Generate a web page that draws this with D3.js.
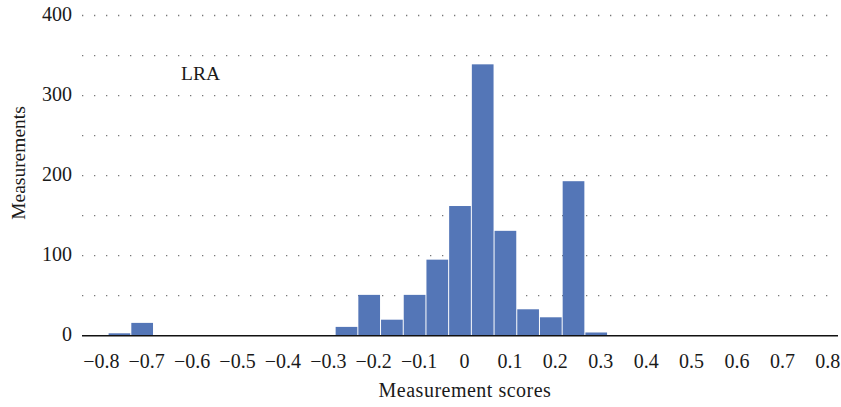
<!DOCTYPE html>
<html>
<head>
<meta charset="utf-8">
<script src="https://cdn.jsdelivr.net/npm/d3@7"></script>
<style>
  html, body { margin: 0; padding: 0; background: #fff; }
  svg { display: block; }
  text { font-family: "Liberation Serif", "DejaVu Serif", serif; fill: #1a1a1a; }
</style>
</head>
<body>
<svg id="chart" width="841" height="407"></svg>
<script>
// Histogram bins (left edges), bin width 0.05
const binStarts = [-0.785, -0.735, -0.685, -0.635, -0.585, -0.535, -0.485, -0.435, -0.385, -0.335,
                   -0.285, -0.235, -0.185, -0.135, -0.085, -0.035, 0.015, 0.065, 0.115, 0.165, 0.215, 0.265];
const counts    = [3, 16, 0, 0, 0, 0, 0, 0, 0, 0,
                   11, 51, 20, 51, 95, 162, 339, 131, 33, 23, 193, 4];
const binWidth = 0.05;
const xTicks = [-0.8, -0.7, -0.6, -0.5, -0.4, -0.3, -0.2, -0.1, 0, 0.1, 0.2, 0.3, 0.4, 0.5, 0.6, 0.7, 0.8];
const yGrid = [50, 100, 150, 200, 250, 300, 350, 400];
const yLabels = [0, 100, 200, 300, 400];
const annotation = "LRA";
const xTitle = "Measurement scores";
const yTitle = "Measurements";

const svg = d3.select("#chart");
const mLeft = 82, mRight = 838, mTop = 15.5, mBottom = 335.7;

const x = d3.scaleLinear().domain([-0.8425, 0.8225]).range([mLeft, mRight]);
const y = d3.scaleLinear().domain([0, 400]).range([mBottom, mTop]);

// dotted gridlines
svg.append("g").selectAll("line").data(yGrid).join("line")
  .attr("x1", mLeft).attr("x2", mRight)
  .attr("y1", d => y(d)).attr("y2", d => y(d))
  .attr("stroke", "#777").attr("stroke-width", 1.3)
  .attr("stroke-dasharray", "1.3,10.7");

// bars
const bars = binStarts.map((s, i) => ({ s, c: counts[i] })).filter(d => d.c > 0);
svg.append("g").selectAll("rect").data(bars).join("rect")
  .attr("x", d => x(d.s) + 0.5)
  .attr("width", d => x(d.s + binWidth) - x(d.s) - 1)
  .attr("y", d => y(d.c))
  .attr("height", d => y(0) - y(d.c))
  .attr("fill", "#5476b7");

// x axis line
svg.append("line")
  .attr("x1", mLeft).attr("x2", mRight)
  .attr("y1", y(0)).attr("y2", y(0))
  .attr("stroke", "#111").attr("stroke-width", 1.5);

// x tick labels
const fmt = d => (d < 0 ? "\u2212" : "") + (d === 0 ? "0" : Math.abs(d).toFixed(1));
svg.append("g").selectAll("text").data(xTicks).join("text")
  .attr("x", d => x(d)).attr("y", 368)
  .attr("text-anchor", "middle")
  .attr("font-size", 20)
  .text(fmt);

// y tick labels
svg.append("g").selectAll("text").data(yLabels).join("text")
  .attr("x", 72).attr("y", d => y(d) + 5.5)
  .attr("text-anchor", "end")
  .attr("font-size", 20)
  .text(d => d);

// annotation
svg.append("text").attr("x", 181).attr("y", 80)
  .attr("font-size", 19.5).text(annotation);

// axis titles
svg.append("text").attr("x", 465).attr("y", 397)
  .attr("text-anchor", "middle").attr("font-size", 20)
  .attr("letter-spacing", 0.5).text(xTitle);
svg.append("text")
  .attr("transform", "translate(25,163) rotate(-90)")
  .attr("text-anchor", "middle").attr("font-size", 19.5).text(yTitle);
</script>
</body>
</html>
